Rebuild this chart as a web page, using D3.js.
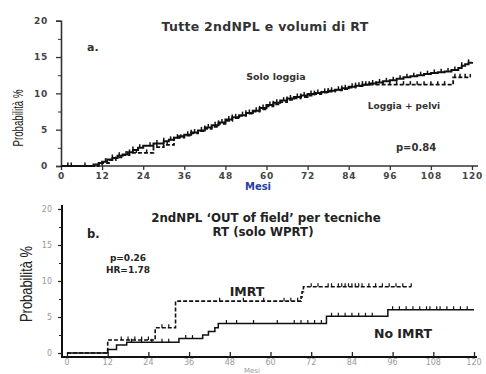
<!DOCTYPE html>
<html>
<head>
<meta charset="utf-8">
<script src="https://cdn.jsdelivr.net/npm/d3@7"></script>
<style>
  html, body { margin: 0; padding: 0; background: #fff; }
  svg { display: block; }
</style>
</head>
<body>
<svg id="chart" width="486" height="374"></svg>
<script>
// Axis ticks shared by both panels
const monthTicks = [0, 12, 24, 36, 48, 60, 72, 84, 96, 108, 120];
const probTicks = [0, 5, 10, 15, 20];
const probMinorTicks = [2.5, 7.5, 12.5, 17.5];

// Panel a: cumulative incidence steps [month, %]
const soloLoggia = [
  [0, 0], [9.5, 0.2], [11, 0.4], [12, 0.6], [13.5, 0.9], [15, 1.1], [16.5, 1.4], [18, 1.6],
  [19.5, 1.9], [21, 2.2], [22.5, 2.5], [24, 2.8], [27, 3.1], [30, 3.4], [31.5, 3.6],
  [33, 3.9], [34.5, 4.1], [36, 4.3], [38, 4.6], [40, 4.9], [42, 5.3], [44, 5.6],
  [46, 6.0], [48, 6.4], [50, 6.7], [52, 7.0], [54, 7.3], [56, 7.6], [58, 8.0],
  [60, 8.4], [62, 8.7], [64, 9.0], [66, 9.3], [68, 9.5], [70, 9.7], [72, 9.9],
  [74, 10.05], [76, 10.2], [78, 10.35], [80, 10.5], [82, 10.7], [84, 10.9], [86, 11.05],
  [88, 11.2], [90, 11.35], [92, 11.5], [94, 11.65], [96, 11.8], [98, 12.0], [100, 12.2],
  [102, 12.35], [104, 12.5], [106, 12.65], [108, 12.8], [110, 12.9], [112, 13.0],
  [114, 13.2], [116, 13.5], [117, 13.8], [118, 14.0], [119, 14.2], [120, 14.3]
];
const loggiaPelvi = [
  [0, 0], [11, 0.2], [12, 0.4], [14, 0.8], [16, 1.2], [18, 1.5], [20, 1.8],
  [27, 2.6], [30, 2.9], [33, 3.9], [36, 4.2], [38, 4.5], [40, 4.8], [42, 5.1], [44, 5.4],
  [46, 5.8], [48, 6.2], [50, 6.6], [52, 6.9], [54, 7.2], [56, 7.5], [58, 7.8],
  [60, 8.2], [62, 8.5], [64, 8.8], [66, 9.1], [68, 9.3], [70, 9.5], [72, 9.7],
  [74, 9.9], [76, 10.1], [78, 10.25], [80, 10.4], [82, 10.6], [84, 10.8], [86, 11.0],
  [88, 11.2], [114.5, 12.2], [119.5, 12.2]
];
const soloLoggiaCensored = [2, 3, 7, 13, 15, 17, 19, 21, 23, 26, 28, 30, 32, 34, 37, 39, 41, 43,
  45, 47, 49, 51, 53, 55, 57, 59, 61, 63, 65, 67, 69, 71, 73, 75, 77, 79, 81, 83, 85, 87, 89,
  91, 93, 95, 97, 99, 101, 103, 105, 107, 109, 111, 113, 115, 117, 119];
const loggiaPelviCensored = [20, 22, 25, 28, 31, 35, 38, 42, 46, 50, 54, 58, 62, 66, 70, 74,
  78, 82, 86, 88, 90, 92, 94, 96, 98, 100, 102, 104, 106, 108, 110, 112, 115, 116.5, 118, 119.5];

// Panel b: out-of-field second tumours by technique
const imrt = [
  [0, 0], [12, 1.8], [26, 3.5], [32, 7.2], [69, 7.8], [69.3, 8.5], [69.7, 9.2], [101.5, 9.2]
];
const noImrt = [
  [0, 0], [12, 0.5], [14.6, 1.1], [17.6, 1.5], [33, 2.0], [40, 2.5], [41.7, 3.0],
  [43.6, 3.5], [44.6, 4.1], [76.5, 5.1], [94.6, 6.0], [120, 6.0]
];
const imrtCensored = [16, 18, 20, 22, 24, 28, 30, 45, 52, 58, 64, 66, 68, 72, 74, 77, 78, 80,
  81, 82, 83, 84, 85, 86, 87, 89, 91, 93, 95, 97, 99, 101.5];
const noImrtCensored = [19, 22, 25, 28, 30, 35, 37, 47, 50, 55, 62, 67, 69, 71, 73, 75, 78,
  80, 82, 84, 86, 88, 90, 96, 98, 100, 102, 104, 106, 107, 109, 110, 112, 114, 116, 118];

const svg = d3.select("#chart");
const BOLD = "'DejaVu Sans', Verdana, sans-serif";
const NARROW = "'Liberation Sans Narrow', 'Liberation Sans', Arial, sans-serif";

// value of a step series at a given month
function valueAt(series, m) {
  const i = d3.bisector(d => d[0]).right(series, m) - 1;
  return series[Math.max(0, i)][1];
}

function drawCurve(g, x, y, series, censored, opts) {
  const line = d3.line().x(d => x(d[0])).y(d => y(d[1])).curve(d3.curveStepAfter);
  g.append("path")
    .attr("d", line(series))
    .attr("fill", "none")
    .attr("stroke", "#111")
    .attr("stroke-width", opts.width)
    .attr("stroke-dasharray", opts.dash || null);
  g.selectAll(null).data(censored).join("line")
    .attr("x1", d => x(d)).attr("x2", d => x(d))
    .attr("y1", d => y(valueAt(series, d)))
    .attr("y2", d => y(valueAt(series, d)) - opts.tick)
    .attr("stroke", "#111")
    .attr("stroke-width", opts.tickWidth || 1.2);
}

// ---------- Panel a ----------
{
  const x = d3.scaleLinear().domain([0, 120]).range([61, 472]);
  const y = d3.scaleLinear().domain([0, 20]).range([166, 20.7]);
  const g = svg.append("g");

  const clip = svg.append("clipPath").attr("id", "clipA");
  clip.append("rect").attr("x", 0).attr("y", 0).attr("width", 486).attr("height", 190.5);

  // axes
  const yAxis = g.append("g").attr("transform", "translate(61,0)")
    .call(d3.axisLeft(y).tickValues(probTicks).tickSize(5).tickPadding(8));
  g.append("g").attr("transform", "translate(61,0)")
    .call(d3.axisLeft(y).tickValues(probMinorTicks).tickSize(3).tickFormat(""))
    .call(a => a.select(".domain").remove());
  const xAxis = g.append("g").attr("transform", "translate(0,166)")
    .call(d3.axisBottom(x).tickValues(monthTicks).tickSize(4).tickPadding(3));
  [yAxis, xAxis].forEach(a => {
    a.select(".domain").attr("stroke", "#333").attr("stroke-width", 1.6);
    a.selectAll(".tick line").attr("stroke", "#333").attr("stroke-width", 1.3);
    a.selectAll("text").attr("fill", "#444").style("font-family", BOLD)
      .style("font-weight", "bold").style("font-size", "9px").style("letter-spacing", "0.8px");
  });
  g.selectAll(".tick line").attr("stroke", "#333");
  xAxis.select(".domain").attr("d", "M61,0H478");

  drawCurve(g, x, y, loggiaPelvi, loggiaPelviCensored, { width: 1.8, dash: "4,2", tick: 3.5, tickWidth: 1.5 });
  drawCurve(g, x, y, soloLoggia, soloLoggiaCensored, { width: 2, tick: 3.5, tickWidth: 1.5 });

  const t = (txt, px, py, size, extra) => {
    const el = g.append("text").attr("x", px).attr("y", py).text(txt)
      .style("font-family", BOLD).style("font-weight", "bold").style("font-size", size + "px")
      .attr("fill", "#333");
    if (extra) extra(el);
    return el;
  };
  t("Tutte 2ndNPL e volumi di RT", 265, 31, 12.5, e => e.attr("text-anchor", "middle")
    .style("letter-spacing", "0.3px"));
  t("a.", 87, 51, 11);
  t("Solo loggia", 276, 80, 9.5, e => e.attr("text-anchor", "middle"));
  t("Loggia + pelvi", 404, 109, 9, e => e.attr("text-anchor", "middle"));
  t("p=0.84", 416, 151, 10, e => e.attr("text-anchor", "middle"));
  t("Mesi", 258, 190, 10, e => e.attr("text-anchor", "middle").attr("fill", "#2940a0")
    .attr("clip-path", "url(#clipA)"));

  g.append("text")
    .attr("transform", "translate(23,118) rotate(-90)")
    .attr("text-anchor", "middle")
    .attr("textLength", 57).attr("lengthAdjust", "spacingAndGlyphs")
    .style("font-family", NARROW).style("font-size", "15px").attr("fill", "#222")
    .text("Probabilità %");
}

// ---------- Panel b ----------
{
  const x = d3.scaleLinear().domain([0, 120]).range([67, 474]);
  const y = d3.scaleLinear().domain([0, 20]).range([353, 209]);
  const g = svg.append("g");

  const yAxis = g.append("g").attr("transform", "translate(62,0)")
    .call(d3.axisLeft(y).tickValues(probTicks).tickSize(4).tickPadding(6));
  g.append("g").attr("transform", "translate(62,0)")
    .call(d3.axisLeft(y).tickValues(probMinorTicks).tickSize(3).tickFormat(""))
    .call(a => a.select(".domain").remove())
    .selectAll(".tick line").attr("stroke", "#222");
  yAxis.select(".domain").attr("d", "M0,357V205").attr("stroke", "#111").attr("stroke-width", 2);
  yAxis.selectAll(".tick line").attr("stroke", "#222").attr("stroke-width", 1.2);

  const xAxis = g.append("g").attr("transform", "translate(0,357)")
    .call(d3.axisTop(x).tickValues(monthTicks).tickSize(5).tickFormat(""));
  xAxis.select(".domain").attr("d", "M61,0H477").attr("stroke", "#111").attr("stroke-width", 2);
  xAxis.selectAll(".tick line").attr("stroke", "#222").attr("stroke-width", 1.3);
  g.append("g").selectAll("text").data(monthTicks).join("text")
    .attr("x", d => x(d)).attr("y", 365).attr("text-anchor", "middle")
    .style("font-family", BOLD).style("font-size", "8px").attr("fill", "#999")
    .text(d => d);
  yAxis.selectAll("text").attr("fill", "#999")
    .style("font-family", BOLD).style("font-size", "8px");

  drawCurve(g, x, y, noImrt, noImrtCensored, { width: 1.5, tick: 3.5 });
  drawCurve(g, x, y, imrt, imrtCensored, { width: 1.6, dash: "4,2", tick: 3.5 });

  const t = (txt, px, py, size, anchor) => g.append("text")
    .attr("x", px).attr("y", py).attr("text-anchor", anchor || "start").text(txt)
    .style("font-family", BOLD).style("font-weight", "bold").style("font-size", size + "px")
    .attr("fill", "#222");
  t("2ndNPL \u2018OUT of field\u2019 per tecniche", 266, 222, 11.8, "middle");
  t("RT (solo WPRT)", 263, 236, 11.8, "middle");
  t("b.", 87, 238, 11.5);
  t("p=0.26", 128, 261, 9, "middle");
  t("HR=1.78", 128, 273, 9, "middle");
  t("IMRT", 247, 296, 12.5, "middle");
  t("No IMRT", 403, 338, 12.5, "middle");
  g.append("text").attr("x", 252).attr("y", 373).attr("text-anchor", "middle")
    .style("font-family", BOLD).style("font-size", "7px").attr("fill", "#999").text("Mesi");

  g.append("text")
    .attr("transform", "translate(32,284) rotate(-90)")
    .attr("text-anchor", "middle")
    .attr("textLength", 76).attr("lengthAdjust", "spacingAndGlyphs")
    .style("font-family", NARROW).style("font-size", "16px").attr("fill", "#222")
    .text("Probabilità %");
}
</script>
</body>
</html>
